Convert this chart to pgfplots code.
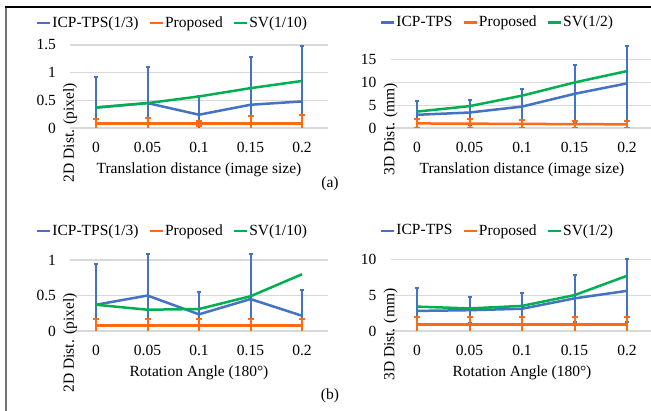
\documentclass[border=0pt]{standalone}
\usepackage{pgfplots}
\pgfplotsset{compat=1.18}
\usepackage{fontspec}
\setmainfont{Liberation Serif}
\definecolor{cblue}{HTML}{4472C4}
\definecolor{corange}{HTML}{FF6A13}
\definecolor{cgreen}{HTML}{00B050}
\definecolor{cgrid}{HTML}{D9D9D9}
\pgfplotsset{
  myaxis/.style={
    scale only axis,
    xmin=-0.5, xmax=4.5, ymin=0,
    xtick={0,1,2,3,4},
    xticklabels={0,0.05,0.1,0.15,0.2},
    axis line style={draw=none},
    major tick length=0pt,
    ymajorgrids, grid style={cgrid, line width=1.2pt},
    /pgf/number format/assume math mode=true,
    yticklabel style={xshift=-9pt},
    xticklabel style={yshift=-8.5pt},
    xlabel style={at={(axis description cs:0.5,0)}, anchor=north, yshift=-29pt},
    legend columns=3,
    legend style={draw=none, fill=none, anchor=center, nodes={inner sep=1pt}},
    legend image code/.code={\draw[#1, line width=2.5pt] (0pt,0pt) -- (13pt,0pt);},
    /tikz/every even column/.append style={column sep=9pt},
  },
  sblue/.style={cblue, line width=2.5pt, mark=none,
    error bars/.cd, y dir=both, y explicit,
    error bar style={line width=2pt, cblue},
    error mark options={rotate=90, mark size=2pt, line width=2pt, cblue}},
  sorange/.style={corange, line width=2.5pt, mark=none,
    error bars/.cd, y dir=both, y explicit,
    error bar style={line width=2pt, corange},
    error mark options={rotate=90, mark size=3pt, line width=2pt, corange}},
  sgreen/.style={cgreen, line width=2.5pt, mark=none},
}
\begin{document}
\fontsize{15.5}{18}\selectfont
\begin{tikzpicture}
\useasboundingbox (0pt,0pt) rectangle (651pt,411pt);
\fill[white] (0pt,0pt) rectangle (651pt,411pt);
\draw[black!55, line width=2pt] (6pt,0pt) -- (6pt,404pt);
\draw[black, line width=1.4pt] (5pt,404pt) -- (651pt,404pt);

% Top left
\begin{axis}[myaxis, at={(70.25pt,283pt)}, anchor=south west,
  width=257.5pt, height=83pt, ymax=1.5, ytick={0,0.5,1,1.5},
  xlabel={Translation distance (image size)},
  ylabel={2D Dist. (pixel)},
  ylabel style={at={(axis description cs:0,0.45)}, anchor=center, xshift=-42pt},
  legend style={at={(axis description cs:0.395,1.265)}}]
\addplot[sblue] coordinates {(0,0.37) +- (0,0.56) (1,0.45) +- (0,0.65) (2,0.24) +- (0,0.33) (3,0.42) +- (0,0.87) (4,0.48) +- (0,1.01)};
\addlegendentry{ICP-TPS(1/3)}
\addplot[sorange] coordinates {(0,0.08) +- (0,0.09) (1,0.08) +- (0,0.10) (2,0.08) +- (0,0.04) (3,0.08) +- (0,0.14) (4,0.08) +- (0,0.16)};
\addlegendentry{Proposed}
\addplot[sgreen] coordinates {(0,0.37) (1,0.45) (2,0.57) (3,0.72) (4,0.85)};
\addlegendentry{SV(1/10)}
\end{axis}

% Top right
\begin{axis}[myaxis, at={(390.75pt,283pt)}, anchor=south west,
  width=262.5pt, height=83.3pt, ymax=18.3, ytick={0,5,10,15},
  xlabel={Translation distance (image size)},
  ylabel={3D Dist. (mm)},
  ylabel style={at={(axis description cs:0,0.45)}, anchor=center, xshift=-38.75pt},
  legend style={at={(axis description cs:0.405,1.265)}}]
\addplot[sblue] coordinates {(0,2.9) +- (0,3.1) (1,3.4) +- (0,2.8) (2,4.7) +- (0,3.9) (3,7.5) +- (0,6.3) (4,9.8) +- (0,8.2)};
\addlegendentry{ICP-TPS}
\addplot[sorange] coordinates {(0,1.0) +- (0,1.05) (1,0.95) +- (0,1.0) (2,0.9) +- (0,0.9) (3,0.85) +- (0,0.75) (4,0.8) +- (0,0.7)};
\addlegendentry{Proposed}
\addplot[sgreen] coordinates {(0,3.6) (1,4.8) (2,7.1) (3,10.0) (4,12.5)};
\addlegendentry{SV(1/2)}
\end{axis}

% Bottom left
\begin{axis}[myaxis, at={(70.25pt,80pt)}, anchor=south west,
  width=257.5pt, height=78pt, ymax=1.1, ytick={0,0.5,1},
  xlabel={Rotation Angle (180°)},
  ylabel={2D Dist. (pixel)},
  ylabel style={at={(axis description cs:0,0.385)}, anchor=center, xshift=-42pt},
  legend style={at={(axis description cs:0.395,1.282)}}]
\addplot[sblue] coordinates {(0,0.37) +- (0,0.57) (1,0.50) +- (0,0.59) (2,0.235) +- (0,0.315) (3,0.45) +- (0,0.64) (4,0.215) +- (0,0.365)};
\addlegendentry{ICP-TPS(1/3)}
\addplot[sorange] coordinates {(0,0.08) +- (0,0.09) (1,0.08) +- (0,0.09) (2,0.08) +- (0,0.09) (3,0.08) +- (0,0.09) (4,0.08) +- (0,0.09)};
\addlegendentry{Proposed}
\addplot[sgreen] coordinates {(0,0.37) (1,0.30) (2,0.31) (3,0.49) (4,0.80)};
\addlegendentry{SV(1/10)}
\end{axis}

% Bottom right
\begin{axis}[myaxis, at={(390.75pt,80pt)}, anchor=south west,
  width=262.5pt, height=78pt, ymax=10.88, ytick={0,5,10},
  xlabel={Rotation Angle (180°)},
  ylabel={3D Dist. (mm)},
  ylabel style={at={(axis description cs:0,0.45)}, anchor=center, xshift=-38.75pt},
  legend style={at={(axis description cs:0.405,1.282)}}]
\addplot[sblue] coordinates {(0,2.8) +- (0,3.15) (1,2.9) +- (0,1.8) (2,3.1) +- (0,2.15) (3,4.55) +- (0,3.25) (4,5.6) +- (0,4.4)};
\addlegendentry{ICP-TPS}
\addplot[sorange] coordinates {(0,0.9) +- (0,1.0) (1,0.9) +- (0,1.0) (2,0.9) +- (0,1.0) (3,0.9) +- (0,1.0) (4,0.9) +- (0,1.0)};
\addlegendentry{Proposed}
\addplot[sgreen] coordinates {(0,3.4) (1,3.15) (2,3.5) (3,5.0) (4,7.7)};
\addlegendentry{SV(1/2)}
\end{axis}

\node at (330pt,227pt) {(a)};
\node at (330pt,15pt) {(b)};
\end{tikzpicture}
\end{document}
